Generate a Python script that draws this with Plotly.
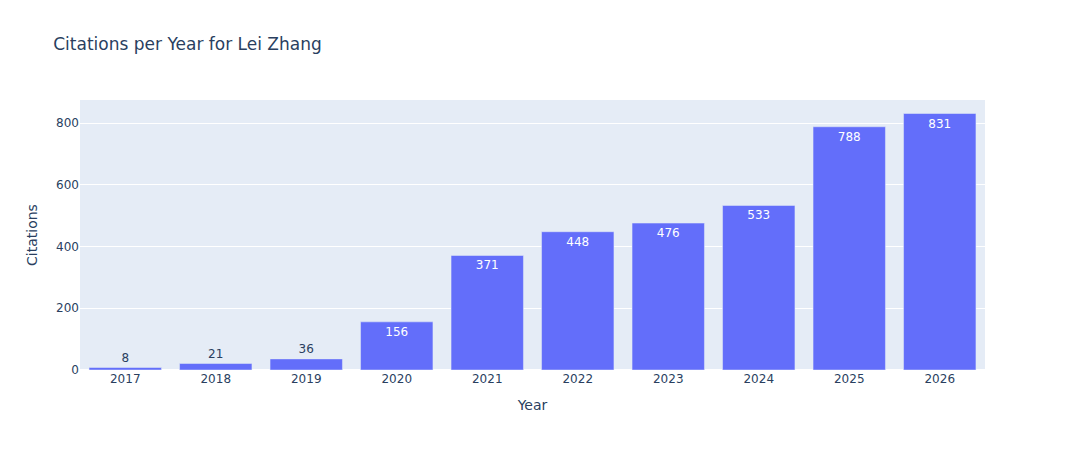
import plotly.graph_objects as go

years = ["2017", "2018", "2019", "2020", "2021", "2022", "2023", "2024", "2025", "2026"]
citations = [8, 21, 36, 156, 371, 448, 476, 533, 788, 831]

fig = go.Figure(
    go.Bar(x=years, y=citations, text=citations, textposition="auto")
)
fig.update_layout(
    title="Citations per Year for Lei Zhang",
    xaxis_title="Year",
    yaxis_title="Citations",
    font=dict(family="Verdana, DejaVu Sans, sans-serif"),
    width=1065,
    height=450,
)
fig.write_html(
    "out.html",
    config={"displayModeBar": False},
    post_script="document.body.style.margin='0';",
)
